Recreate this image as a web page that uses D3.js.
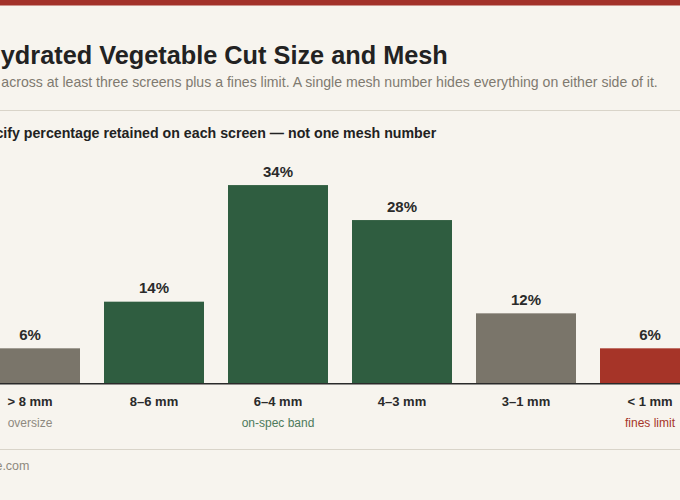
<!DOCTYPE html>
<html><head><meta charset="utf-8">
<script src="https://cdn.jsdelivr.net/npm/d3@7"></script>
<style>html,body{margin:0;padding:0;background:#f7f4ee;overflow:hidden}svg{display:block;font-family:"Liberation Sans",Arial,Helvetica,sans-serif}</style>
</head><body>
<svg id="c" width="680" height="500"></svg>
<script>
// ---- data ----
const categories = ["> 8 mm", "8–6 mm", "6–4 mm", "4–3 mm", "3–1 mm", "< 1 mm"];
const retained = [6, 14, 34, 28, 12, 6];
const groups = ["oversize", "on-spec", "on-spec", "on-spec", "undersize", "fines"];
const notes = ["oversize", "", "on-spec band", "", "", "fines limit"];

const title = "Dehydrated Vegetable Cut Size and Mesh";
const subtitle = "Sample across at least three screens plus a fines limit. A single mesh number hides everything on either side of it.";
const heading = "Specify percentage retained on each screen — not one mesh number";
const footer = "produce.com";

// ---- layout ----
const W = 680, H = 500;
const colors = {oversize:"#7a756a", "on-spec":"#2f5d40", undersize:"#7a756a", fines:"#a63428"};
const noteColors = {oversize:"#8e897f", "on-spec":"#4d7a5c", undersize:"#8e897f", fines:"#a63428"};

const svg = d3.select("#c");
svg.append("rect").attr("width",W).attr("height",H).attr("fill","#f7f4ee");
svg.append("rect").attr("x",0).attr("y",0).attr("width",W).attr("height",5.5).attr("fill","#a3322a");

svg.append("text").attr("x",-47).attr("y",64).attr("font-size",25.3).attr("font-weight","bold")
  .attr("fill","#222").text(title);
svg.append("text").attr("x",-50.4).attr("y",87).attr("font-size",14.1).attr("fill","#7f7a70").text(subtitle);
svg.append("line").attr("x1",0).attr("x2",W).attr("y1",110.5).attr("y2",110.5).attr("stroke","#d9d4c9").attr("stroke-width",1.2);
svg.append("text").attr("x",-30.6).attr("y",138).attr("font-size",14.2).attr("font-weight","bold")
  .attr("fill","#222").text(heading);

const x = d3.scaleBand().domain(categories).range([-32, 712]).paddingInner(24/124).paddingOuter(12/124);
const y = d3.scaleLinear().domain([0, 40]).range([383.3, 150.1]);

const g = svg.append("g");
g.selectAll("rect.bar").data(categories).join("rect").attr("class","bar")
  .attr("x", d => x(d)).attr("width", x.bandwidth())
  .attr("y", (d,i) => y(retained[i])).attr("height", (d,i) => y(0) - y(retained[i]))
  .attr("fill", (d,i) => colors[groups[i]]);

g.selectAll("text.val").data(categories).join("text").attr("class","val")
  .attr("x", d => x(d) + x.bandwidth()/2).attr("y", (d,i) => y(retained[i]) - 8.3)
  .attr("text-anchor","middle").attr("font-size",15).attr("font-weight","bold").attr("fill","#2a2a2a")
  .text((d,i) => retained[i] + "%");

// baseline axis
const axis = d3.axisBottom(x).tickSize(0).tickPadding(13);
const ax = svg.append("g").attr("transform",`translate(0,${y(0)})`).call(axis);
ax.select(".domain").attr("stroke","#2a2a2a").attr("stroke-width",1.5);
ax.selectAll(".tick text").attr("font-size",13).attr("font-weight","bold").attr("fill","#2a2a2a")
  .attr("font-family","Liberation Sans, Arial, sans-serif");

g.selectAll("text.note").data(categories).join("text").attr("class","note")
  .attr("x", d => x(d) + x.bandwidth()/2).attr("y", 426.5)
  .attr("text-anchor","middle").attr("font-size",12)
  .attr("fill", (d,i) => noteColors[groups[i]])
  .text((d,i) => notes[i]);

svg.append("line").attr("x1",0).attr("x2",W).attr("y1",449.5).attr("y2",449.5).attr("stroke","#d9d4c9").attr("stroke-width",1.2);
svg.append("text").attr("x",-42.8).attr("y",470).attr("font-size",12.5).attr("fill","#8e897f").text(footer);
</script></body></html>
